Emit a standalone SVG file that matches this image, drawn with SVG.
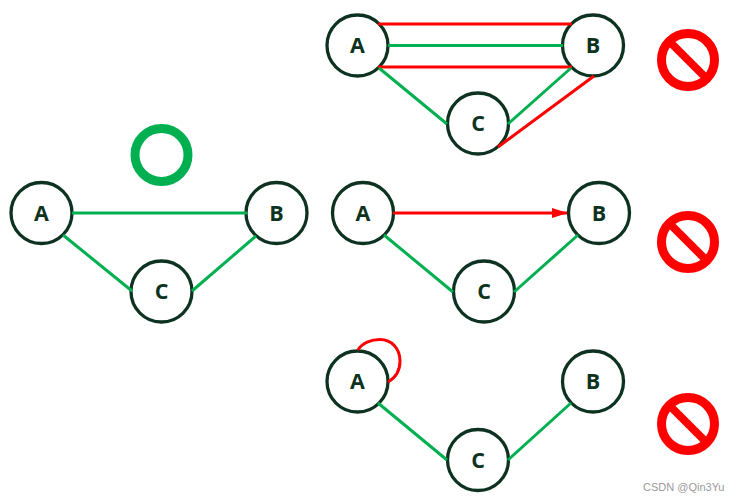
<svg xmlns="http://www.w3.org/2000/svg" width="739" height="502" viewBox="0 0 739 502">
<style>
.n{fill:#fff;stroke:#0d3320;stroke-width:3.3}
.t{font-family:"Open Sans","Liberation Sans",sans-serif;font-weight:700;font-size:21.500px;fill:#0d3320;text-anchor:middle}
.g{fill:none;stroke:#00b050;stroke-width:3}
.r{fill:none;stroke:#f00;stroke-width:3}
.no{fill:none;stroke:#f00;stroke-width:9}
.bar{fill:none;stroke:#f00;stroke-width:8}
.wm{font-family:"Liberation Sans",sans-serif;font-size:11px;fill:#9a9a9a}
</style>
<defs>
<marker id="arrow" markerUnits="userSpaceOnUse" markerWidth="16" markerHeight="10" refX="15" refY="5" orient="auto"><path d="M0 0L16 5L0 10Z" fill="#f00"/></marker>
<g id="forbid"><circle class="no" r="26.500"/><path class="bar" d="M-18.500-18.500L18.500 18.500"/></g>
</defs>
<g id="ok"><circle cx="161.500" cy="155" r="26.500" fill="none" stroke="#00b050" stroke-width="9"/></g>
<g id="n1-A"><circle class="n" cx="41.500" cy="213" r="30.500"/><text class="t" x="41.500" y="220.500">A</text></g>
<g id="n1-B"><circle class="n" cx="276.500" cy="213" r="30.500"/><text class="t" x="276.500" y="220.500">B</text></g>
<g id="n1-C"><circle class="n" cx="161.500" cy="291.500" r="30.500"/><text class="t" x="161.500" y="299">C</text></g>
<g id="n2-A"><circle class="n" cx="357.500" cy="45.500" r="30.500"/><text class="t" x="357.500" y="53">A</text></g>
<g id="n2-B"><circle class="n" cx="593" cy="45.500" r="30.500"/><text class="t" x="593" y="53">B</text></g>
<g id="n2-C"><circle class="n" cx="478" cy="123.500" r="30.500"/><text class="t" x="478" y="131">C</text></g>
<g id="n3-A"><circle class="n" cx="363" cy="213" r="30.500"/><text class="t" x="363" y="220.500">A</text></g>
<g id="n3-B"><circle class="n" cx="599" cy="213" r="30.500"/><text class="t" x="599" y="220.500">B</text></g>
<g id="n3-C"><circle class="n" cx="484" cy="291.500" r="30.500"/><text class="t" x="484" y="299">C</text></g>
<g id="n4-A"><circle class="n" cx="357.500" cy="381.500" r="30.500"/><text class="t" x="357.500" y="389">A</text></g>
<g id="n4-B"><circle class="n" cx="593" cy="381.500" r="30.500"/><text class="t" x="593" y="389">B</text></g>
<g id="n4-C"><circle class="n" cx="478" cy="460" r="30.500"/><text class="t" x="478" y="467.500">C</text></g>
<g id="connectors">
<path class="g" d="M72 213H247M63 235L132 291M192 291L256 236"/>
<path class="r" d="M378 24H572M378 67H572M498 147L594 76"/>
<path class="g" d="M388 45.500H563M379 68L447 124M508 124L571 68"/>
<path class="r" d="M393 213H567" marker-end="url(#arrow)"/>
<path class="g" d="M384 235L453 292M514 292L578 235"/>
<path class="r" d="M358 350C362 343 371 339.500 380 339.500C392 339.500 400 349 400 361C400 371 395 378 388 382"/>
<path class="g" d="M378 403L447 460M508 460L571 403"/>
</g>
<use id="no1" href="#forbid" x="688" y="60"/>
<use id="no2" href="#forbid" x="688" y="242"/>
<use id="no3" href="#forbid" x="688" y="424"/>
<text class="wm" x="643" y="491">CSDN @Qin3Yu</text>
</svg>
